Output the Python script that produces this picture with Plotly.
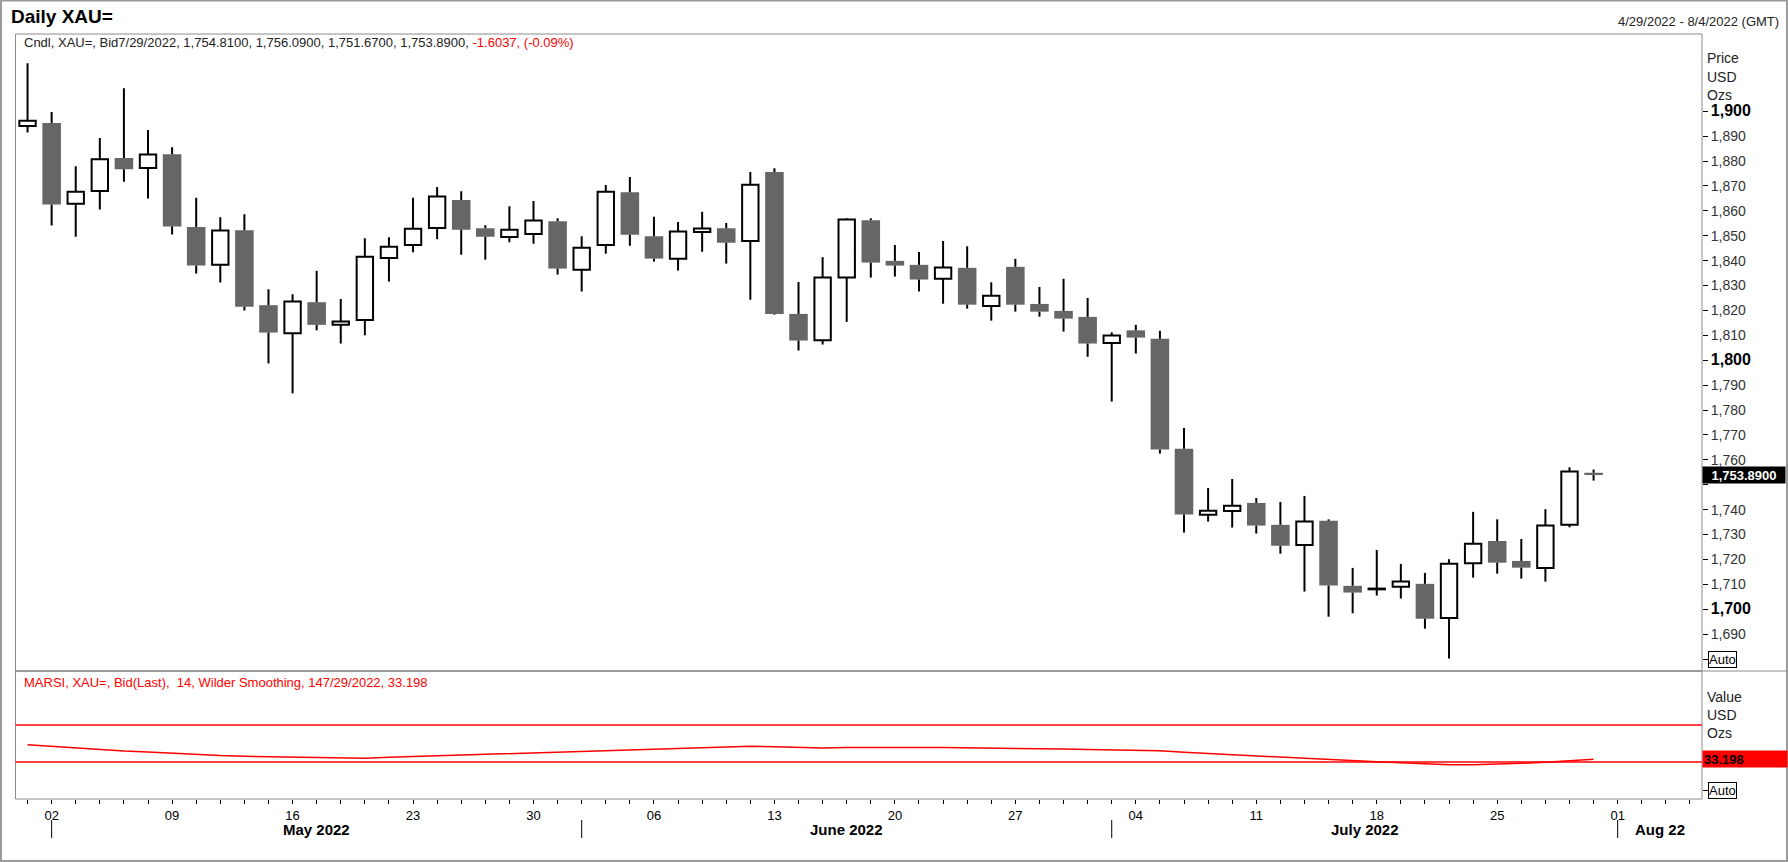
import pandas as pd
import plotly.graph_objects as go

W, H = 1788, 862

# trading days shown on the axis (Apr 29 .. Aug 4), candles up to Jul 29
axis_days = pd.bdate_range("2022-04-29", "2022-08-04")
n_candles = 66

opens = [1894.1, 1895.3, 1862.8, 1868.0, 1881.2, 1877.2, 1882.7, 1853.5, 1838.3, 1852.2,
         1822.1, 1810.8, 1823.3, 1814.2, 1816.2, 1841.0, 1846.3, 1853.1, 1864.3, 1853.0,
         1849.5, 1850.7, 1855.8, 1836.3, 1846.3, 1867.5, 1849.8, 1840.7, 1851.5, 1853.0,
         1847.9, 1875.6, 1818.6, 1808.0, 1833.2, 1856.2, 1839.9, 1838.3, 1832.7, 1837.1,
         1821.8, 1837.5, 1822.6, 1819.8, 1817.4, 1806.9, 1812.0, 1808.6, 1764.4, 1737.9,
         1739.5, 1742.7, 1733.9, 1725.8, 1735.5, 1709.4, 1708.0, 1709.0, 1710.2, 1696.5,
         1718.5, 1727.4, 1719.4, 1716.6, 1733.9, 1754.81]
highs = [1919.3, 1899.7, 1877.9, 1889.2, 1909.2, 1892.4, 1885.5, 1865.2, 1857.4, 1858.6,
         1828.5, 1826.5, 1835.9, 1824.6, 1849.0, 1849.4, 1865.2, 1869.6, 1867.9, 1854.2,
         1861.8, 1863.9, 1857.0, 1849.8, 1870.4, 1873.6, 1857.6, 1855.5, 1859.6, 1855.1,
         1875.6, 1877.1, 1831.4, 1841.4, 1857.0, 1857.0, 1846.3, 1843.5, 1847.9, 1845.8,
         1831.3, 1840.7, 1829.4, 1832.7, 1825.0, 1811.2, 1814.2, 1811.8, 1772.8, 1748.7,
         1752.3, 1744.7, 1743.1, 1745.5, 1736.1, 1716.6, 1723.8, 1718.2, 1714.6, 1720.1,
         1739.1, 1736.1, 1728.2, 1740.2, 1757.0, 1756.09]
lows = [1891.4, 1854.1, 1849.6, 1860.5, 1871.7, 1864.9, 1850.5, 1834.8, 1831.2, 1820.0,
        1798.7, 1786.7, 1812.0, 1806.7, 1810.0, 1831.6, 1843.4, 1848.6, 1842.4, 1840.4,
        1847.4, 1846.8, 1834.4, 1827.6, 1842.8, 1846.0, 1839.6, 1836.0, 1843.6, 1838.8,
        1824.3, 1818.3, 1803.9, 1806.3, 1815.4, 1833.2, 1833.6, 1827.6, 1822.7, 1820.7,
        1815.9, 1819.5, 1817.5, 1811.5, 1801.4, 1783.4, 1802.7, 1762.5, 1730.8, 1735.2,
        1732.8, 1730.4, 1722.3, 1707.1, 1697.0, 1698.4, 1705.5, 1704.3, 1692.2, 1680.2,
        1712.7, 1714.3, 1712.3, 1711.1, 1732.9, 1751.67]
closes = [1896.2, 1862.5, 1867.7, 1880.7, 1876.7, 1882.6, 1853.7, 1838.0, 1852.1, 1821.5,
          1811.1, 1823.6, 1814.2, 1815.5, 1841.6, 1845.6, 1852.8, 1865.7, 1852.4, 1849.6,
          1852.4, 1856.1, 1836.8, 1845.2, 1867.7, 1850.4, 1840.8, 1851.7, 1852.9, 1847.2,
          1870.5, 1818.6, 1807.9, 1833.2, 1856.5, 1839.2, 1838.0, 1832.4, 1837.2, 1822.3,
          1825.9, 1822.3, 1819.5, 1816.7, 1806.7, 1809.9, 1809.1, 1764.1, 1738.0, 1739.6,
          1741.6, 1733.6, 1725.5, 1735.2, 1709.5, 1706.7, 1708.3, 1711.1, 1696.2, 1718.3,
          1726.3, 1718.7, 1716.7, 1733.6, 1755.3, 1753.89]

# MARSI (14, Wilder smoothing)
rsi = [48.8, 47.0, 45.5, 43.5, 42.0, 41.0, 39.5, 38.3, 37.0, 36.3,
       35.7, 35.1, 34.7, 34.3, 34.1, 35.2, 36.0, 36.5, 37.3, 38.0,
       38.8, 39.8, 40.8, 41.8, 42.7, 43.5, 44.2, 45.0, 46.0, 46.7,
       47.0, 46.5, 45.5, 45.3, 45.6, 45.9, 45.9, 45.8, 45.6, 45.4,
       45.2, 45.1, 44.8, 44.2, 43.6, 43.2, 42.9, 42.2, 40.5, 39.2,
       38.0, 36.3, 34.8, 33.5, 32.5, 31.3, 30.3, 29.4, 28.2, 27.2,
       27.2, 27.6, 28.7, 29.8, 31.2, 33.198]
rsi_levels = [30, 70]

price_ticks = list(range(1680, 1901, 10))
months = [("May 2022", "2022-05"), ("June 2022", "2022-06"), ("July 2022", "2022-07"), ("Aug 22", "2022-08")]


def px(x):
    return x / W


def py(y):
    return 1 - y / H


FRAME = "#8c8c8c"
FONT = "Arial, Liberation Sans, sans-serif"

idx = list(range(n_candles))
up = [i for i in idx if closes[i] >= opens[i]]
dn = [i for i in idx if closes[i] < opens[i]]


def body(ids):
    base = [min(opens[i], closes[i]) for i in ids]
    hgt = [max(abs(closes[i] - opens[i]), 0.3) for i in ids]
    return base, hgt


fig = go.Figure()

# wicks (upper and lower parts, so they don't cross white bodies)
wx, wy = [], []
for i in idx:
    top = max(opens[i], closes[i])
    bot = min(opens[i], closes[i])
    wx += [i, i, None, i, i, None]
    wy += [highs[i], top, None, bot, lows[i], None]
fig.add_trace(go.Scatter(x=wx, y=wy, mode="lines", line=dict(color="black", width=2),
                         hoverinfo="skip", xaxis="x", yaxis="y"))

b, h = body(dn)
fig.add_trace(go.Bar(x=dn, y=h, base=b, width=0.77, marker=dict(color="#666666", line=dict(width=0)),
                     xaxis="x", yaxis="y"))
b, h = body(up)
fig.add_trace(go.Bar(x=up, y=h, base=b, width=0.68,
                     marker=dict(color="white", line=dict(color="black", width=2)),
                     xaxis="x", yaxis="y"))

fig.add_trace(go.Scatter(x=idx, y=rsi, mode="lines", line=dict(color="#ff0000", width=1.5),
                         xaxis="x2", yaxis="y2"))

xdom = [px(15.5), px(1702)]
x_range = [-0.5, len(axis_days) - 0.5]

# bottom axis: a tick every day, label on mondays
day_text = [d.strftime("%d") if d.weekday() == 0 else "" for d in axis_days]


def tick_label(v):
    # 1680 sits under the "Auto" box, 1750 under the last-price box
    if v in (1680, 1750):
        return ""
    if v % 100 == 0:
        return f"<span style='font-size:16px;color:#000'><b>{v:,}</b></span>"
    return f"{v:,}"


fig.update_layout(
    width=W, height=H,
    margin=dict(l=0, r=0, t=0, b=0),
    paper_bgcolor="white", plot_bgcolor="white",
    showlegend=False, barmode="overlay",
    font=dict(family=FONT, size=13, color="#222"),
    xaxis=dict(domain=xdom, range=x_range, anchor="y", showticklabels=False, ticks="",
               showgrid=False, zeroline=False, showline=False, fixedrange=True),
    yaxis=dict(domain=[py(671), py(34)], range=[1675.2, 1931], anchor="x", side="right",
               tickvals=price_ticks, ticktext=[tick_label(v) for v in price_ticks],
               ticks="outside", ticklen=5, tickcolor="black", tickfont=dict(size=14, color="#333"),
               showgrid=False, zeroline=False, showline=False, automargin=False),
    xaxis2=dict(domain=xdom, range=x_range, anchor="y2", tickvals=list(range(len(axis_days))),
                ticktext=day_text, ticks="outside", ticklen=4, tickcolor="black",
                tickfont=dict(size=13, color="black"), showgrid=False, zeroline=False,
                showline=False, automargin=False),
    yaxis2=dict(domain=[py(799), py(671)], range=[-9.68, 128], anchor="x2", side="right",
                tickvals=[0, 40], ticktext=["", ""], ticks="outside", ticklen=5, tickcolor="black",
                tickfont=dict(size=14, color="#333"), showgrid=False, zeroline=False,
                showline=False, automargin=False),
)

shapes = [
    dict(type="rect", xref="paper", yref="paper", x0=px(1), x1=px(1787), y0=py(861), y1=py(0.5),
         line=dict(color="#9a9a9a", width=2)),
    dict(type="rect", xref="paper", yref="paper", x0=xdom[0], x1=xdom[1], y0=py(671), y1=py(34),
         line=dict(color=FRAME, width=1)),
    dict(type="line", xref="paper", yref="paper", x0=xdom[0], x1=1, y0=py(671), y1=py(671),
         line=dict(color=FRAME, width=1)),
    dict(type="rect", xref="paper", yref="paper", x0=xdom[0], x1=xdom[1], y0=py(799), y1=py(671),
         line=dict(color=FRAME, width=1)),
]
for lv in rsi_levels:
    shapes.append(dict(type="line", xref="x2 domain", yref="y2", x0=0, x1=1, y0=lv, y1=lv,
                       line=dict(color="#ff0000", width=1.5)))
for name, ym in months:
    first = [i for i, d in enumerate(axis_days) if d.strftime("%Y-%m") == ym][0]
    shapes.append(dict(type="line", xref="x2", yref="paper", x0=first, x1=first, y0=py(838), y1=py(820),
                       line=dict(color="black", width=1)))
fig.update_layout(shapes=shapes)

ann = []
ann.append(dict(text="<b>Daily XAU=</b>", x=px(9), y=py(17), xref="paper", yref="paper",
                xanchor="left", yanchor="middle", showarrow=False, font=dict(size=19, color="black")))
ann.append(dict(text="4/29/2022 - 8/4/2022 (GMT)", x=px(1781), y=py(21), xref="paper", yref="paper",
                xanchor="right", yanchor="middle", showarrow=False, font=dict(size=13, color="#222")))
ann.append(dict(text="Cndl, XAU=, Bid7/29/2022, 1,754.8100, 1,756.0900, 1,751.6700, 1,753.8900, "
                     "<span style='color:#ff0000'>-1.6037, (-0.09%)</span>",
                x=px(22), y=py(43), xref="paper", yref="paper", xanchor="left", yanchor="middle",
                showarrow=False, font=dict(size=13, color="#222")))
ann.append(dict(text="MARSI, XAU=, Bid(Last),  14, Wilder Smoothing, 147/29/2022, 33.198",
                x=px(22), y=py(682), xref="paper", yref="paper", xanchor="left", yanchor="middle",
                showarrow=False, font=dict(size=13, color="#ff0000")))
for t, y in [("Price", 58), ("USD", 77), ("Ozs", 95), ("Value", 697), ("USD", 715), ("Ozs", 733)]:
    ann.append(dict(text=t, x=px(1705), y=py(y), xref="paper", yref="paper", xanchor="left",
                    yanchor="middle", showarrow=False, font=dict(size=14, color="#222")))
for name, ym in months:
    days = [i for i, d in enumerate(axis_days) if d.strftime("%Y-%m") == ym]
    if name == "Aug 22":
        cx = (days[0] + x_range[1]) / 2
    else:
        cx = (days[0] + days[-1] + 1) / 2
    ann.append(dict(text=f"<b>{name}</b>", x=cx, y=py(829), xref="x2", yref="paper", xanchor="center",
                    yanchor="middle", showarrow=False, font=dict(size=15, color="black")))
# last values
ann.append(dict(text="<b>1,753.8900</b>", x=xdom[1], y=closes[-1], xref="paper", yref="y",
                xanchor="left", yanchor="middle", showarrow=False, bgcolor="black",
                font=dict(size=13, color="white"), width=80, height=14, borderpad=1))
ann.append(dict(text="<b>33.198</b>", x=xdom[1], y=rsi[-1], xref="paper", yref="y2",
                xanchor="left", yanchor="middle", showarrow=False, bgcolor="#ff0000", align="left",
                font=dict(size=13, color="black"), width=82, height=14, borderpad=1))
for yref, yv in [("y", 1680), ("y2", 0)]:
    ann.append(dict(text="Auto", x=px(1708), y=yv, xref="paper", yref=yref, xanchor="left",
                    yanchor="middle", showarrow=False, bgcolor="white", bordercolor="black",
                    borderwidth=1, borderpad=0, font=dict(size=13, color="black")))
fig.update_layout(annotations=ann)

fig.write_html("out.html", config={"displayModeBar": False},
               post_script="document.body.style.margin='0';document.body.style.overflow='hidden';")
